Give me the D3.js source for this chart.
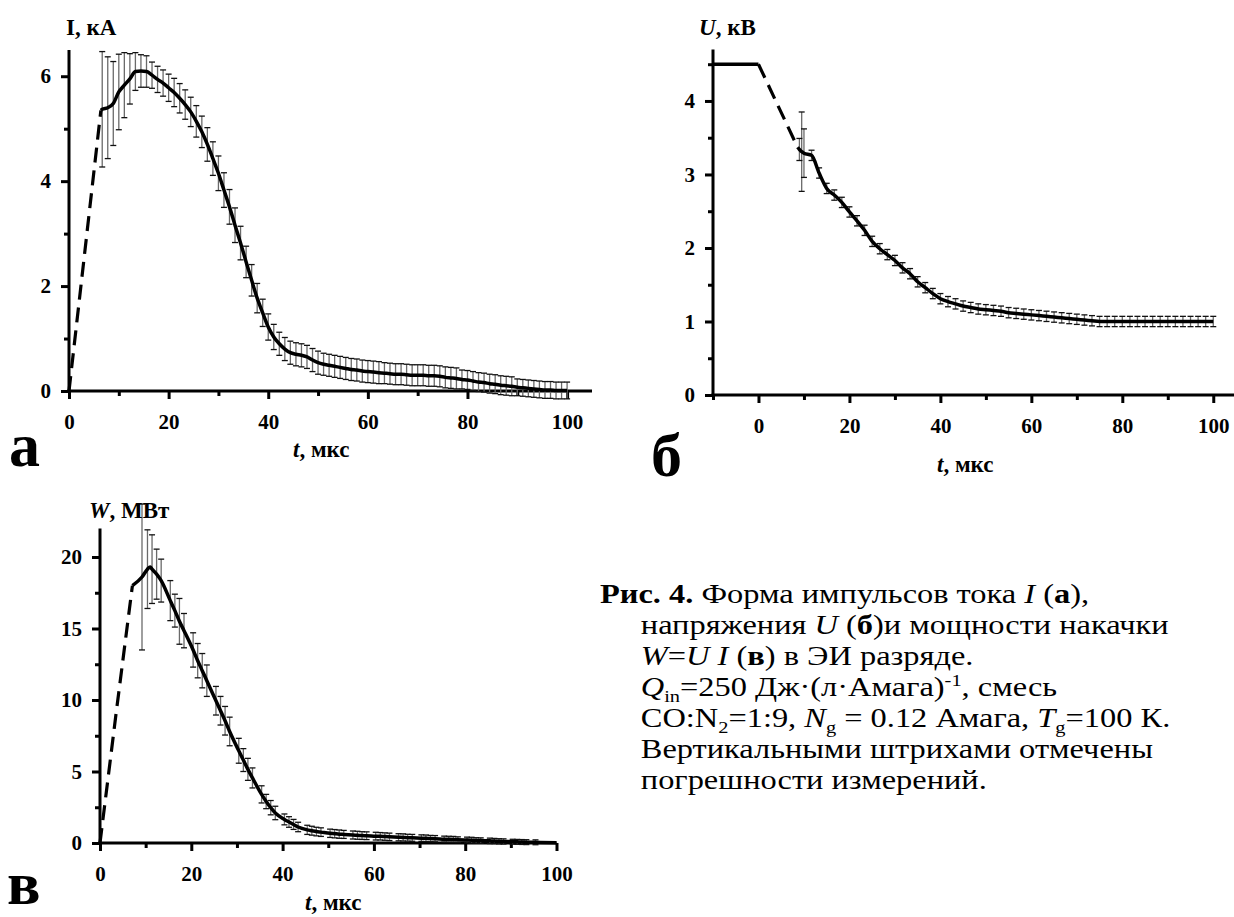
<!DOCTYPE html>
<html><head><meta charset="utf-8">
<script src="https://cdn.jsdelivr.net/npm/d3@7"></script>
<style>
html,body{margin:0;padding:0;background:#fff;}
#wrap{position:relative;width:1234px;height:917px;overflow:hidden;}
svg{position:absolute;left:0;top:0;}
#cap{position:absolute;left:600px;top:579px;width:520px;font-family:'Liberation Serif','Tinos','Times New Roman','DejaVu Serif',serif;font-size:27px;line-height:31px;color:#000;padding-left:34px;text-indent:-34px;white-space:nowrap;transform:scaleX(1.2);transform-origin:0 0;}
#cap sub,#cap sup{font-size:17px;line-height:0;}
</style></head>
<body><div id="wrap"><svg id="chart" width="1234" height="917"></svg>
<div id="cap"><b>Рис. 4.</b> Форма импульсов тока <i>I</i> (<b>а</b>),<br>напряжения <i>U</i> (<b>б</b>)и мощности накачки<br><i>W</i>=<i>U I</i> (<b>в</b>) в ЭИ разряде.<br><i>Q</i><sub>in</sub>=250 Дж·(л·Амага)<sup>-1</sup>, смесь<br>CO:N<sub>2</sub>=1:9, <i>N</i><sub>g</sub> = 0.12 Амага, <i>T</i><sub>g</sub>=100 К.<br>Вертикальными штрихами отмечены<br>погрешности измерений.</div>
</div>
<script>
// ---------- Panel а: current I, kA ----------
const tA = [6.4, 6.67, 7.78, 8.89, 10.0, 11.11, 12.22, 13.33, 14.44, 15.56, 16.67, 17.78, 18.89, 20.0, 21.11, 22.22, 23.33, 24.44, 25.56, 26.67, 27.78, 28.89, 30.0, 31.11, 32.22, 33.33, 34.44, 35.56, 36.67, 37.78, 38.89, 40.0, 41.11, 42.22, 43.33, 44.44, 45.56, 46.67, 47.78, 48.89, 50.0, 51.11, 52.22, 53.33, 54.44, 55.56, 56.67, 57.78, 58.89, 60.0, 61.11, 62.22, 63.33, 64.44, 65.56, 66.67, 67.78, 68.89, 70.0, 71.11, 72.22, 73.33, 74.44, 75.56, 76.67, 77.78, 78.89, 80.0, 81.11, 82.22, 83.33, 84.44, 85.56, 86.67, 87.78, 88.89, 90.0, 91.11, 92.22, 93.33, 94.44, 95.56, 96.67, 97.78, 98.89, 100.0];
const iA = [5.35, 5.37, 5.40, 5.48, 5.70, 5.83, 5.95, 6.09, 6.10, 6.09, 6.02, 5.94, 5.87, 5.78, 5.69, 5.58, 5.46, 5.32, 5.14, 4.94, 4.70, 4.43, 4.15, 3.83, 3.51, 3.16, 2.82, 2.46, 2.11, 1.77, 1.49, 1.22, 1.03, 0.90, 0.80, 0.73, 0.70, 0.68, 0.65, 0.59, 0.54, 0.51, 0.49, 0.47, 0.45, 0.43, 0.41, 0.40, 0.38, 0.37, 0.36, 0.35, 0.34, 0.33, 0.32, 0.32, 0.31, 0.30, 0.30, 0.30, 0.29, 0.29, 0.28, 0.26, 0.25, 0.24, 0.22, 0.21, 0.19, 0.17, 0.16, 0.14, 0.13, 0.11, 0.10, 0.09, 0.07, 0.06, 0.05, 0.04, 0.03, 0.02, 0.02, 0.01, 0.01, 0.01];
const eA = [null, 1.10, 0.97, 0.80, 0.72, 0.62, 0.48, 0.36, 0.31, 0.30, 0.25, 0.25, 0.25, 0.26, 0.27, 0.28, 0.28, 0.28, 0.30, 0.30, 0.32, 0.32, 0.33, 0.33, 0.33, 0.33, 0.32, 0.30, 0.30, 0.28, 0.26, 0.25, 0.24, 0.22, 0.22, 0.22, 0.22, 0.22, 0.22, 0.22, 0.22, 0.21, 0.21, 0.21, 0.21, 0.21, 0.21, 0.21, 0.21, 0.21, 0.21, 0.21, 0.20, 0.20, 0.20, 0.20, 0.20, 0.20, 0.20, 0.20, 0.20, 0.20, 0.20, 0.20, 0.20, 0.20, 0.18, 0.18, 0.18, 0.18, 0.18, 0.18, 0.18, 0.18, 0.18, 0.18, 0.16, 0.16, 0.16, 0.16, 0.16, 0.16, 0.16, 0.16, 0.16, 0.16];
const tAdash = [0, 6.4];
const iAdash = [0, 5.35];

// ---------- Panel б: voltage U, kV ----------
const tUflat = [-10, 0];
const uUflat = [4.5, 4.5];
const tUdash = [0, 8.6];
const uUdash = [4.5, 3.37];
const tU = [8.6, 9.0, 9.5, 10.0, 11.67, 13.33, 15.0, 16.67, 18.33, 20.0, 21.67, 23.33, 25.0, 26.67, 28.33, 30.0, 31.67, 33.33, 35.0, 36.67, 38.33, 40.0, 41.67, 43.33, 45.0, 46.67, 48.33, 50.0, 51.67, 53.33, 55.0, 56.67, 58.33, 60.0, 61.67, 63.33, 65.0, 66.67, 68.33, 70.0, 71.67, 73.33, 75.0, 76.67, 78.33, 80.0, 81.67, 83.33, 85.0, 86.67, 88.33, 90.0, 91.67, 93.33, 95.0, 96.67, 98.33, 100.0];
const uU = [3.37, 3.34, 3.31, 3.29, 3.26, 3.02, 2.81, 2.72, 2.62, 2.49, 2.37, 2.24, 2.09, 1.99, 1.91, 1.83, 1.73, 1.65, 1.54, 1.46, 1.38, 1.31, 1.27, 1.24, 1.21, 1.19, 1.17, 1.16, 1.15, 1.14, 1.12, 1.11, 1.10, 1.09, 1.08, 1.07, 1.06, 1.05, 1.04, 1.03, 1.02, 1.01, 1.00, 1.00, 1.00, 1.00, 1.00, 1.00, 1.00, 1.00, 1.00, 1.00, 1.00, 1.00, 1.00, 1.00, 1.00, 1.00];
const eU = [null, 0.15, 0.54, 0.33, 0.07, 0.07, 0.07, 0.07, 0.07, 0.07, 0.07, 0.07, 0.07, 0.07, 0.07, 0.07, 0.07, 0.07, 0.07, 0.07, 0.07, 0.07, 0.07, 0.07, 0.07, 0.07, 0.07, 0.07, 0.07, 0.07, 0.07, 0.07, 0.07, 0.07, 0.07, 0.07, 0.07, 0.07, 0.07, 0.07, 0.07, 0.07, 0.07, 0.07, 0.07, 0.07, 0.07, 0.07, 0.07, 0.07, 0.07, 0.07, 0.07, 0.07, 0.07, 0.07, 0.07, 0.07];

// ---------- Panel в: power W, MW ----------
const tWdash = [0, 3.5, 7.1];
const wWdash = [0, 9.0, 18.0];
const tW = [7.1, 9.2, 10.4, 11.0, 11.4, 12.4, 13.4, 15.4, 16.4, 17.4, 18.4, 20.4, 21.4, 22.4, 23.4, 25.4, 26.4, 27.4, 28.4, 30.4, 31.4, 32.4, 33.4, 35.4, 36.4, 37.4, 38.4, 40.4, 41.4, 42.4, 43.4, 45.4, 46.4, 47.4, 48.4, 50.4, 51.4, 52.4, 53.4, 55.4, 56.4, 57.4, 58.4, 60.4, 61.4, 62.4, 63.4, 65.4, 66.4, 67.4, 68.4, 70.4, 71.4, 72.4, 73.4, 75.4, 76.4, 77.4, 78.4, 80.4, 81.4, 82.4, 83.4, 85.4, 86.4, 87.4, 88.4, 90.4, 91.4, 92.4, 93.4, 95.4, 100.0];
const wW = [18.0, 18.6, 19.15, 19.3, 19.15, 18.8, 18.35, 16.95, 16.25, 15.5, 14.85, 13.5, 12.75, 12.05, 11.35, 9.95, 9.25, 8.55, 7.8, 6.45, 5.8, 5.15, 4.55, 3.4, 2.9, 2.47, 2.1, 1.65, 1.47, 1.3, 1.12, 0.92, 0.86, 0.80, 0.76, 0.68, 0.65, 0.62, 0.60, 0.56, 0.54, 0.52, 0.51, 0.48, 0.47, 0.45, 0.43, 0.40, 0.39, 0.37, 0.36, 0.34, 0.33, 0.31, 0.30, 0.27, 0.26, 0.25, 0.23, 0.21, 0.20, 0.18, 0.17, 0.15, 0.14, 0.12, 0.11, 0.09, 0.08, 0.07, 0.06, 0.05, 0.02];
const eW = [null, 5.1, 2.75, null, 2.4, 1.75, 1.5, 1.4, 1.15, 1.6, 1.2, 1.2, 1.2, 1.2, 1.1, 1.0, 1.0, 1.0, 1.0, 0.87, 0.8, 0.77, 0.7, 0.6, 0.5, 0.5, 0.47, 0.38, 0.37, 0.35, 0.33, 0.32, 0.31, 0.30, 0.30, 0.29, 0.29, 0.29, 0.28, 0.28, 0.28, 0.27, 0.27, 0.27, 0.26, 0.26, 0.26, 0.25, 0.25, 0.24, 0.24, 0.23, 0.23, 0.22, 0.22, 0.21, 0.21, 0.21, 0.20, 0.20, 0.20, 0.19, 0.19, 0.19, 0.18, 0.18, 0.18, 0.17, 0.17, 0.17, 0.17, 0.17, null];

// ---------- tick values ----------
const xMajorA = [0, 20, 40, 60, 80, 100], xMinorA = [10, 30, 50, 70, 90];
const yMajorA = [0, 2, 4, 6], yMinorA = [1, 3, 5];
const xMajorU = [0, 20, 40, 60, 80, 100], xMinorU = [-10, 10, 30, 50, 70, 90];
const yMajorU = [0, 1, 2, 3, 4], yMinorU = [0.5, 1.5, 2.5, 3.5, 4.5];
const xMajorW = [0, 20, 40, 60, 80, 100], xMinorW = [10, 30, 50, 70, 90];
const yMajorW = [0, 5, 10, 15, 20], yMinorW = [2.5, 7.5, 12.5, 17.5];

const FONT = "'Liberation Serif', 'Tinos', 'Times New Roman', 'DejaVu Serif', serif";
const svg = d3.select("#chart");

function panel(o) {
  const g = svg.append("g");
  const x = d3.scaleLinear().domain(o.xd).range(o.xr);
  const y = d3.scaleLinear().domain(o.yd).range(o.yr);
  const line = d3.line().x(d => x(d[0])).y(d => y(d[1]));

  const ax = g.append("g").attr("transform", `translate(0,${y(0)})`)
    .call(d3.axisBottom(x).tickValues(o.xMaj).tickSize(8).tickSizeOuter(0).tickPadding(15).tickFormat(d3.format("d")));
  const axm = g.append("g").attr("transform", `translate(0,${y(0)})`)
    .call(d3.axisBottom(x).tickValues(o.xMin).tickSize(5).tickSizeOuter(0).tickFormat(() => ""));
  const ay = g.append("g").attr("transform", `translate(${x(o.xd[0])},0)`)
    .call(d3.axisLeft(y).tickValues(o.yMaj).tickSize(8).tickSizeOuter(0).tickPadding(10).tickFormat(d3.format("d")));
  const aym = g.append("g").attr("transform", `translate(${x(o.xd[0])},0)`)
    .call(d3.axisLeft(y).tickValues(o.yMin).tickSize(5).tickSizeOuter(0).tickFormat(() => ""));
  [axm, aym].forEach(a => a.select(".domain").remove());
  [ax, axm, ay, aym].forEach(a => {
    a.attr("font-family", null).attr("font-size", null);
    a.selectAll("path,line").attr("stroke", "#000").attr("stroke-width", 3);
    a.selectAll("text").style("font-family", FONT).style("font-size", "21px").style("font-weight", "bold").attr("fill", "#000");
  });
  ay.select(".domain").attr("d", `M0,${y(0) + 1.5}V${o.yr[1]}`);
  ax.select(".domain").attr("d", `M${x(o.xd[0]) - 1.5},0H${o.xr[1]}`);

  const pts = o.t.map((t, i) => ({ t, v: o.v[i], e: o.e[i] })).filter(d => d.e != null);
  const eb = g.append("g");
  eb.selectAll("line.bar").data(pts).enter().append("line")
    .attr("x1", d => x(d.t)).attr("x2", d => x(d.t))
    .attr("y1", d => y(d.v - d.e)).attr("y2", d => y(d.v + d.e))
    .attr("stroke", "#6a6a6a").attr("stroke-width", 1.3);
  ["top", "bot"].forEach(k => {
    eb.selectAll("line.c" + k).data(pts).enter().append("line")
      .attr("x1", d => x(d.t) - 3).attr("x2", d => x(d.t) + 3)
      .attr("y1", d => y(k === "top" ? d.v + d.e : d.v - d.e))
      .attr("y2", d => y(k === "top" ? d.v + d.e : d.v - d.e))
      .attr("stroke", "#111").attr("stroke-width", 1.3);
  });

  (o.extraSolid || []).forEach(s => {
    g.append("path").datum(s[0].map((t, i) => [t, s[1][i]])).attr("d", line)
      .attr("fill", "none").attr("stroke", "#000").attr("stroke-width", 3.5);
  });
  g.append("path").datum(o.dashT.map((t, i) => [t, o.dashV[i]])).attr("d", line)
    .attr("fill", "none").attr("stroke", "#000").attr("stroke-width", 3.2).attr("stroke-dasharray", "15,8");
  g.append("path").datum(o.t.map((t, i) => [t, o.v[i]]))
    .attr("d", line.curve(d3.curveMonotoneX))
    .attr("fill", "none").attr("stroke", "#000").attr("stroke-width", 3.5).attr("stroke-linejoin", "round");

  const yt = g.append("text").attr("x", o.yTitle[0]).attr("y", o.yTitle[1])
    .style("font-family", FONT).style("font-size", "23px").style("font-weight", "bold");
  yt.append("tspan").style("font-style", o.yItalic ? "italic" : "normal").text(o.yVar);
  yt.append("tspan").text(o.yUnit);
  const xt = g.append("text").attr("x", o.xTitle[0]).attr("y", o.xTitle[1])
    .style("font-family", FONT).style("font-size", "23px").style("font-weight", "bold");
  xt.append("tspan").style("font-style", "italic").text("t");
  xt.append("tspan").text(", мкс");
  g.append("text").attr("x", o.lab[0]).attr("y", o.lab[1])
    .style("font-family", FONT).style("font-size", "62px").style("font-weight", "bold").text(o.labT);
}

panel({ xd: [0, 105], xr: [69, 592], yd: [0, 6.5], yr: [391, 50],
  xMaj: xMajorA, xMin: xMinorA, yMaj: yMajorA, yMin: yMinorA,
  t: tA, v: iA, e: eA, dashT: tAdash, dashV: iAdash,
  yTitle: [66, 35], yVar: "I", yUnit: ", кА", yItalic: false,
  xTitle: [293, 457], lab: [9, 466], labT: "а" });

panel({ xd: [-10, 105], xr: [713, 1236], yd: [0, 4.7], yr: [395, 49.5],
  xMaj: xMajorU, xMin: xMinorU, yMaj: yMajorU, yMin: yMinorU,
  t: tU, v: uU, e: eU, dashT: tUdash, dashV: uUdash, extraSolid: [[tUflat, uUflat]],
  yTitle: [699, 35], yVar: "U", yUnit: ", кВ", yItalic: true,
  xTitle: [937, 472], lab: [651, 476], labT: "б" });

panel({ xd: [0, 100], xr: [100, 556.5], yd: [0, 22], yr: [843, 528.4],
  xMaj: xMajorW, xMin: xMinorW, yMaj: yMajorW, yMin: yMinorW,
  t: tW, v: wW, e: eW, dashT: tWdash, dashV: wWdash,
  yTitle: [89, 518], yVar: "W", yUnit: ", МВт", yItalic: true,
  xTitle: [305, 910], lab: [7, 904], labT: "в" });
</script></body></html>
